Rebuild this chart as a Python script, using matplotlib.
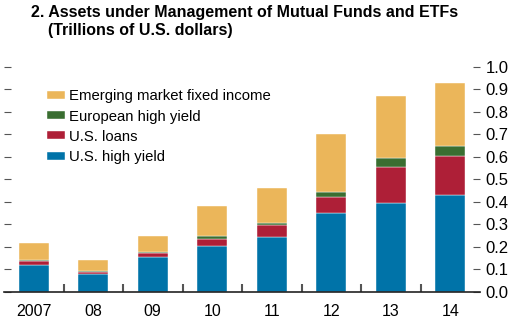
import matplotlib
matplotlib.use("Agg")
import matplotlib.pyplot as plt
import numpy as np

plt.rcParams['font.family'] = ['Liberation Sans', 'DejaVu Sans']

years = ['2007', '08', '09', '10', '11', '12', '13', '14']
us_high_yield = [0.117, 0.080, 0.156, 0.202, 0.245, 0.349, 0.393, 0.430]
us_loans = [0.019, 0.010, 0.015, 0.034, 0.051, 0.074, 0.163, 0.172]
euro_high_yield = [0.006, 0.004, 0.007, 0.011, 0.010, 0.021, 0.039, 0.047]
em_fixed_income = [0.077, 0.047, 0.070, 0.133, 0.154, 0.259, 0.275, 0.278]

series = [
    ('U.S. high yield', us_high_yield, '#0073a8'),
    ('U.S. loans', us_loans, '#ae1f37'),
    ('European high yield', euro_high_yield, '#3a6e31'),
    ('Emerging market fixed income', em_fixed_income, '#ebb65a'),
]

fig = plt.figure(figsize=(5.18, 3.31), dpi=100)
ax = fig.add_axes([4/518, 39.2/331, 476/518, 225/331])

x = np.arange(len(years))
bottom = np.zeros(len(years))
handles = []
for name, vals, col in series:
    b = ax.bar(x, vals, width=0.5, bottom=bottom, color=col,
               edgecolor='white', linewidth=0.3, label=name)
    handles.append(b)
    bottom += np.array(vals)

ax.set_xlim(-0.5, len(years) - 0.5)
ax.set_ylim(0, 1.0)

for s in ['top', 'left', 'right']:
    ax.spines[s].set_visible(False)
ax.spines['bottom'].set_linewidth(1.2)
ax.spines['bottom'].set_color('#222222')

ax.set_xticks(x)
ax.set_xticklabels(years, fontsize=11.5)
ax.set_xticks(np.arange(0.5, len(years) - 1, 1), minor=True)
ax.tick_params(axis='x', which='major', length=0, pad=9)
ax.tick_params(axis='x', which='minor', direction='in', length=6,
               width=1.5, color='#555555')

ax.set_yticks(np.arange(0, 1.01, 0.1))
ax.set_yticklabels(['%.1f' % v for v in np.arange(0, 1.01, 0.1)])
ax.tick_params(axis='y', which='major', left=True, right=True,
               labelleft=False, labelright=True, direction='in',
               length=5, width=0.8, color='#555555', labelsize=12, pad=4)

leg = ax.legend(handles[::-1], [s[0] for s in series][::-1],
                loc='upper left', bbox_to_anchor=(0.09, 0.9),
                frameon=False, fontsize=10.7, handlelength=1.2,
                handleheight=0.45, handletextpad=0.3, labelspacing=0.42,
                borderaxespad=0, borderpad=0)

fig.text(31/518, 1 - 12/331, '2. Assets under Management of Mutual Funds and ETFs',
         fontsize=11.5, fontweight='bold', va='center', ha='left')
fig.text(48/518, 1 - 30/331, '(Trillions of U.S. dollars)',
         fontsize=11.5, fontweight='bold', va='center', ha='left')

fig.savefig('out.png', dpi=100)
